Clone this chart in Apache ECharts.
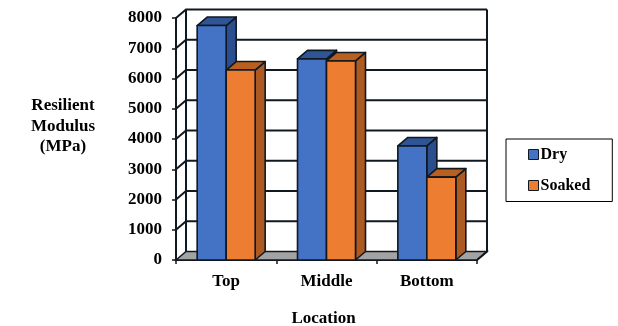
<!DOCTYPE html>
<html>
<head>
<meta charset="utf-8">
<style>html,body{margin:0;padding:0;background:#fff}#chart{width:618px;height:326px}</style>
<script src="https://cdn.jsdelivr.net/npm/echarts@6/dist/echarts.min.js"></script>
</head>
<body>
<div id="chart"></div>
<script>
// Resilient modulus by sample location, drawn as 3D-style clustered columns
const categories = ['Top', 'Middle', 'Bottom'];
const dryValues = [7750, 6650, 3770];
const soakedValues = [6280, 6580, 2740];
const wallTicks = [0, 1000, 2000, 3000, 4000, 5000, 6000, 7000, 8000];

const DEPTH_X = 10, DEPTH_Y = -8.5;
const BAR_RATIO = 0.289;
const INK = '#101820';
const FONT = '"Liberation Serif", serif';

// Back wall, side wall and floor with their gridlines
function renderGrid(params, api) {
  const v = api.value(0);
  const left = api.coord([0, v])[0] - api.size([1, 0])[0] / 2;
  const right = left + api.size([1, 0])[0] * 3;
  const y = api.coord([0, v])[1];
  const line = { stroke: INK, lineWidth: 2, fill: null };
  const children = [];
  if (v === 0) {
    children.push({
      type: 'polygon',
      shape: { points: [[left, y], [left + DEPTH_X, y + DEPTH_Y], [right + DEPTH_X, y + DEPTH_Y], [right, y]] },
      style: { fill: '#a3a3a3', stroke: INK, lineWidth: 1.5 }
    });
    const top = api.coord([0, 8000])[1];
    children.push({
      type: 'polyline',
      shape: { points: [[left + DEPTH_X, y + DEPTH_Y], [left + DEPTH_X, top + DEPTH_Y]] },
      style: line
    });
    children.push({
      type: 'polyline',
      shape: { points: [[right + DEPTH_X, top + DEPTH_Y], [right + DEPTH_X, y + DEPTH_Y], [right, y]] },
      style: line
    });
  } else {
    children.push({
      type: 'polyline',
      shape: { points: [[left, y], [left + DEPTH_X, y + DEPTH_Y], [right + DEPTH_X, y + DEPTH_Y]] },
      style: line
    });
  }
  return { type: 'group', children };
}

// One column: front, top and side faces; offset places it left (-1) or right (0) of the band centre
function barRenderer(offset, front, topFace, sideFace) {
  return function (params, api) {
    const base = api.coord([api.value(0), 0]);
    const head = api.coord([api.value(0), api.value(1)]);
    const w = api.size([1, 0])[0] * BAR_RATIO;
    const x0 = base[0] + offset * w, x1 = x0 + w;
    const edge = { stroke: INK, lineWidth: 1.6, lineJoin: 'round' };
    return {
      type: 'group',
      children: [
        { type: 'polygon',
          shape: { points: [[x1, head[1]], [x1 + DEPTH_X, head[1] + DEPTH_Y], [x1 + DEPTH_X, base[1] + DEPTH_Y], [x1, base[1]]] },
          style: Object.assign({ fill: sideFace }, edge) },
        { type: 'polygon',
          shape: { points: [[x0, head[1]], [x0 + DEPTH_X, head[1] + DEPTH_Y], [x1 + DEPTH_X, head[1] + DEPTH_Y], [x1, head[1]]] },
          style: Object.assign({ fill: topFace }, edge) },
        { type: 'rect',
          shape: { x: x0, y: head[1], width: w, height: base[1] - head[1] },
          style: Object.assign({ fill: front }, edge) }
      ]
    };
  };
}

const chart = echarts.init(document.getElementById('chart'), null, { renderer: 'canvas' });
chart.setOption({
  animation: false,
  backgroundColor: '#fff',
  textStyle: { fontFamily: FONT },
  grid: { left: 176, right: 141, top: 18, bottom: 66, outerBoundsMode: 'none' },
  graphic: [{
    type: 'text',
    x: 63, y: 126.5,
    style: {
      text: 'Resilient\nModulus\n(MPa)',
      fontFamily: FONT, fontWeight: 'bold', fontSize: 17, lineHeight: 20.5,
      fill: '#000', align: 'center', verticalAlign: 'middle'
    }
  }],
  legend: {
    orient: 'vertical',
    left: 506, top: 139,
    padding: [7.5, 22, 8, 22],
    itemWidth: 10, itemHeight: 10, itemGap: 15,
    icon: 'rect',
    backgroundColor: '#fff',
    borderColor: '#000', borderWidth: 1, borderRadius: 0,
    data: ['Dry', 'Soaked'],
    textStyle: { fontFamily: FONT, fontWeight: 'bold', fontSize: 16, color: '#000', padding: [0, 0, 0, -3] },
    itemStyle: { borderColor: INK, borderWidth: 1 }
  },
  xAxis: {
    type: 'category',
    data: categories,
    name: 'Location',
    nameLocation: 'middle',
    nameGap: 50,
    nameTextStyle: { fontFamily: FONT, fontWeight: 'bold', fontSize: 17, color: '#000', padding: [0, 6, 0, 0] },
    axisLine: { show: true, lineStyle: { color: INK, width: 2 } },
    axisTick: { show: true, alignWithLabel: false, length: 4, lineStyle: { color: INK, width: 1.5 } },
    axisLabel: { fontFamily: FONT, fontWeight: 'bold', fontSize: 17, color: '#000', margin: 13 },
    splitLine: { show: false }
  },
  yAxis: {
    type: 'value',
    min: 0, max: 8000, interval: 1000,
    axisLine: { show: true, lineStyle: { color: INK, width: 2 } },
    axisTick: { show: true, length: 4, lineStyle: { color: INK, width: 1.5 } },
    axisLabel: { fontFamily: FONT, fontWeight: 'bold', fontSize: 17, color: '#000', margin: 14, formatter: v => String(v) },
    splitLine: { show: false }
  },
  series: [
    { type: 'custom', name: 'walls', silent: true, z: 1, clip: false,
      data: wallTicks.map(v => [v]), encode: { y: 0 },
      renderItem: renderGrid },
    { type: 'custom', name: 'Dry', z: 3, clip: false,
      itemStyle: { color: '#4472c4' },
      data: dryValues.map((v, i) => [i, v]), encode: { x: 0, y: 1 },
      renderItem: barRenderer(-1, '#4472c4', '#2f5597', '#2b4f8e') },
    { type: 'custom', name: 'Soaked', z: 4, clip: false,
      itemStyle: { color: '#ed7d31' },
      data: soakedValues.map((v, i) => [i, v]), encode: { x: 0, y: 1 },
      renderItem: barRenderer(0, '#ed7d31', '#b9601f', '#ad5a22') }
  ]
});
</script>
</body>
</html>
